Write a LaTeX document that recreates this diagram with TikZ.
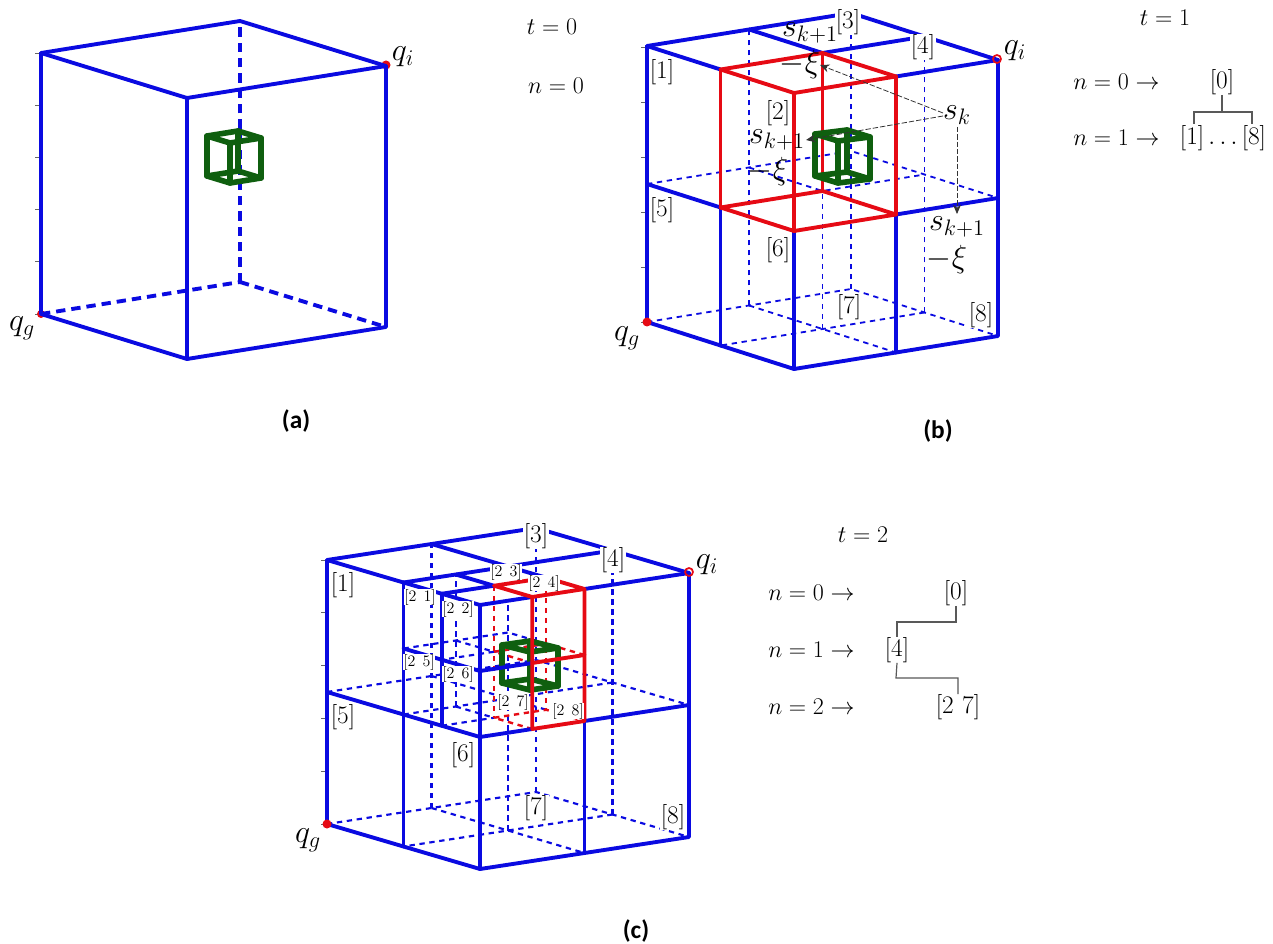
\documentclass[tikz,border=0pt]{standalone}
\usepackage{fix-cm}
\usepackage{fontspec}
\newfontfamily\capfont{Carlito}[BoldFont={Carlito Bold}]
\usetikzlibrary{arrows.meta}
\definecolor{cblue}{RGB}{10,10,225}
\definecolor{cred}{RGB}{230,10,20}
\definecolor{cgreen}{RGB}{15,95,15}
\tikzset{
  pxframe/.code n args={7}{\tikzset{shift={(#1,#2)},
    x={({0.75pt*(#3)},{-0.75pt*(#4)})},
    y={({0.75pt*(#5)},{-0.75pt*(#6)})},
    z={(0pt,{0.75pt*(#7)})}}},
  bluesolid/.style={draw=cblue,line width=2.9pt,line cap=round,line join=round},
  redsolid/.style={draw=cred,line width=2.9pt,line cap=round,line join=round},
  bluefat/.style={draw=cblue,line width=2.9pt,dash pattern=on 7pt off 4.5pt},
  bluethin/.style={draw=cblue,line width=1.35pt,dash pattern=on 4pt off 3.5pt},
  bluemid/.style={draw=cblue,line width=1.6pt,dash pattern=on 4pt off 3.5pt},
  redmid/.style={draw=cred,line width=1.8pt,dash pattern=on 4pt off 3.5pt},
  greenline/.style={draw=cgreen,line width=4.2pt,line join=round,line cap=round},
  lab/.style={font=\fontsize{19}{21}\selectfont,inner sep=0pt},
  tlab/.style={font=\fontsize{18}{20}\selectfont,inner sep=0pt},
  labw/.style={lab,fill=white,inner sep=0.5pt},
  biglab/.style={font=\fontsize{24}{26}\selectfont,inner sep=0pt},
  smalllab/.style={font=\fontsize{12}{14}\selectfont,fill=white,inner sep=0pt},
  capt/.style={font=\capfont\bfseries\fontsize{19}{22}\selectfont,inner sep=0pt},
  treeline/.style={draw=black!65,line width=0.9pt},
  hint/.style={draw=black!80,line width=0.6pt,dash pattern=on 4pt off 1.5pt,-{Stealth[length=7pt,width=6pt]}},
  tick/.style={draw=black!60,line width=0.5pt},
  reddot/.style={fill=cred,draw=none}
}
\newcommand{\greencube}{%
  \draw[greenline] (0,0,0)--(1,0,0)--(1,1,0)--(0,1,0)--cycle;
  \draw[greenline] (0,0,1)--(1,0,1)--(1,1,1)--(0,1,1)--cycle;
  \draw[greenline] (0,0,0)--(0,0,1) (1,0,0)--(1,0,1) (1,1,0)--(1,1,1) (0,1,0)--(0,1,1);
}
\newcommand{\ticksat}[2]{%
  \foreach \tk in {0,0.2,0.4,0.6,0.8,1}{\draw[tick] ({#1-6},{#2-\tk*(#2-\ticktop)}) -- ({#1},{#2-\tk*(#2-\ticktop)});}
}
\newcommand{\backdash}[1]{%
  % z = 1/2 level, hidden lines
  \draw[#1] (0,1,.5)--(1,1,.5)--(1,0,.5);
  \draw[#1] (.5,1,.5)--(.5,.5,.5)--(1,.5,.5);
  % floor
  \draw[#1] (0,1,0)--(1,1,0)--(1,0,0);
  \draw[#1] (.5,1,0)--(.5,0,0);
  \draw[#1] (1,.5,0)--(0,.5,0);
  % uprights
  \draw[#1] (.5,1,0)--(.5,1,1);
  \draw[#1] (1,1,0)--(1,1,1);
  \draw[#1] (1,.5,0)--(1,.5,1);
}
\begin{document}
\begin{tikzpicture}[x=0.75pt,y=-0.75pt]
\useasboundingbox (0,0) rectangle (1273,944);
\fill[white] (0,0) rectangle (1273,944);

% ---------- panel (a)
\def\ticktop{53}\ticksat{41}{314}
\fill[reddot] (41,314) circle[radius=4];
\fill[reddot] (386,65) circle[radius=4.5];
\begin{scope}[pxframe={187}{359}{199}{-32}{-146}{-45}{261}]
  \draw[bluefat] (0,1,0)--(1,1,0);
  \draw[bluefat] (1,1,0)--(1,0,0);
  \draw[bluefat] (1,1,0)--(1,1,1);
\end{scope}
\begin{scope}[pxframe={230}{183}{31}{-5}{-23}{-7}{40}]
  \greencube
\end{scope}
\begin{scope}[pxframe={187}{359}{199}{-32}{-146}{-45}{261}]
  \draw[bluesolid] (0,1,0)--(0,0,0)--(1,0,0)--(1,0,1)--(1,1,1)--(0,1,1)--cycle;
  \draw[bluesolid] (0,1,1)--(0,0,1)--(1,0,1);
  \draw[bluesolid] (0,0,1)--(0,0,0);
\end{scope}
\node[biglab] (aqi) at (403,57) {$q_i$};
\node[biglab] (aqg) at (22,328) {$q_g$};
\node[capt] (capa) at (296,421) {(a)};
\node[tlab] (at) at (552,27) {$t=0$};
\node[tlab] (an) at (556,86) {$n=0$};

% ---------- panel (b)
\def\ticktop{47}\ticksat{647}{322}
\begin{scope}[pxframe={794}{369}{204}{-33}{-147}{-47}{276}]
  \backdash{bluethin}
  \draw[bluethin] (.5,.5,0)--(.5,.5,.5);
  \draw[bluesolid] (0,1,0)--(0,0,0)--(1,0,0)--(1,0,1)--(.5,0,1);
  \draw[bluesolid] (0,1,0)--(0,1,1)--(1,1,1)--(1,0,1);
  \draw[bluesolid] (0,1,1)--(0,.5,1);
  \draw[bluesolid] (.5,1,1)--(.5,.5,1)--(1,.5,1);
  \draw[bluesolid] (0,1,.5)--(0,.5,.5);
  \draw[bluesolid] (1,0,.5)--(.5,0,.5);
  \draw[bluesolid] (0,.5,0)--(0,.5,.5);
  \draw[bluesolid] (0,0,0)--(0,0,.5);
  \draw[bluesolid] (.5,0,0)--(.5,0,.5);
  % red sub-cube
  \draw[redsolid] (0,0,.5)--(.5,0,.5)--(.5,.5,.5)--(0,.5,.5)--cycle;
  \draw[redsolid] (0,0,1)--(.5,0,1)--(.5,.5,1)--(0,.5,1)--cycle;
  \draw[redsolid] (0,0,.5)--(0,0,1) (.5,0,.5)--(.5,0,1) (.5,.5,.5)--(.5,.5,1) (0,.5,.5)--(0,.5,1);
\end{scope}
\begin{scope}[pxframe={838}{183}{32}{-4}{-23}{-7}{42}]
  \greencube
\end{scope}
\fill[reddot] (647,322) circle[radius=4.5];
\draw[cred,line width=1.3pt] (997,59) circle[radius=4];
\node[biglab] (bqi) at (1015,51) {$q_i$};
\node[biglab] (bqg) at (627,338) {$q_g$};
\node[lab] (b1) at (662,72) {$[1]$};
\node[lab] (b5) at (662,210) {$[5]$};
\node[lab] (b2) at (778,113) {$[2]$};
\node[lab] (b6) at (778,250) {$[6]$};
\node[labw] (b3) at (848,22) {$[3]$};
\node[labw] (b4) at (923,47) {$[4]$};
\node[labw] (b7) at (849,307) {$[7]$};
\node[labw] (b8) at (981,315) {$[8]$};
\node[biglab] (bs1) at (810,33) {$s_{k+1}$};
\node[biglab] (bx1) at (800,65) {$-\xi$};
\node[biglab] (bsk) at (957,115) {$s_k$};
\node[biglab] (bs2) at (777,140) {$s_{k+1}$};
\node[biglab] (bx2) at (768,172) {$-\xi$};
\node[biglab] (bs3) at (957,227) {$s_{k+1}$};
\node[biglab] (bx3) at (947,260) {$-\xi$};
\coordinate (bt1) at (820,65);
\coordinate (bt2) at (806,140);
\coordinate (bt3) at (957,214);
\coordinate (bf1) at (943,113);
\coordinate (bf2) at (943,116);
\coordinate (bf3) at (957,127);
\draw[hint] (bf1) -- (bt1);
\draw[hint] (bf2) -- (bt2);
\draw[hint] (bf3) -- (bt3);
\node[capt] (capb) at (938,431) {(b)};
\node[tlab] (bt) at (1165,18) {$t=1$};
\node[tlab,anchor=west] (bn0) at (1073,82) {$n=0\rightarrow$};
\node[tlab,anchor=west] (bn1) at (1073,138) {$n=1\rightarrow$};
\node[lab] (bzero) at (1222,82) {$[0]$};
\node[lab] (bone) at (1223,138) {$[1]\ldots[8]$};
\coordinate (bm) at (1222,112);
\coordinate (bl) at (1194,124);
\coordinate (br) at (1252,124);
\draw[treeline] (bzero.south) -- (bm);
\draw[treeline] (bl) |- (bm) -| (br);

% ---------- panel (c)
\def\ticktop{560}\ticksat{327}{824}
\begin{scope}[pxframe={480}{869}{209}{-32}{-153}{-45}{264}]
  \backdash{bluemid}
  \draw[bluemid] (.5,.5,0)--(.5,.5,.87);
  % hidden lines of the subdivided octant
  \draw[bluemid] (.25,.5,.5)--(.25,.5,1);
  \draw[bluemid] (0,.5,.75)--(.5,.5,.75)--(.5,.25,.75);
  \draw[bluemid] (.25,.5,.75)--(.25,.25,.75)--(0,.25,.75);
  \draw[bluemid] (.25,.25,.75)--(.5,.25,.75);
  \draw[bluemid] (0,.5,.5)--(.5,.5,.5)--(.5,.25,.5);
  \draw[bluemid] (0,.25,.5)--(.25,.25,.5);
  \draw[bluemid] (.25,.5,.5)--(.25,.25,.5);
  % hidden red lines
  \draw[redmid] (.25,.25,1)--(.25,.25,.5);
  \draw[redmid] (.5,.25,1)--(.5,.25,.5);
  \draw[redmid] (.25,.25,.75)--(.5,.25,.75);
  \draw[redmid] (.25,0,.75)--(.25,.25,.75);
  \draw[redmid] (.5,0,.75)--(.5,.25,.75);
  \draw[redmid] (.25,0,.5)--(.25,.25,.5)--(.5,.25,.5)--(.5,0,.5);
\end{scope}
\begin{scope}[pxframe={530}{690}{28}{-4}{-28}{-7}{38}]
  \greencube
\end{scope}
\begin{scope}[pxframe={480}{869}{209}{-32}{-153}{-45}{264}]
  \draw[bluesolid] (0,1,0)--(0,0,0)--(1,0,0)--(1,0,1)--(.5,0,1);
  \draw[bluesolid] (0,1,0)--(0,1,1)--(1,1,1)--(1,0,1);
  \draw[bluesolid] (0,1,1)--(0,.5,1);
  \draw[bluesolid] (.5,1,1)--(.5,.5,1)--(1,.5,1);
  \draw[bluesolid] (0,1,.5)--(0,0,.5)--(.25,0,.5);
  \draw[bluesolid] (1,0,.5)--(.5,0,.5);
  \draw[bluesolid] (0,.5,0)--(0,.5,1);
  \draw[bluesolid] (0,0,0)--(0,0,1);
  \draw[bluesolid] (.5,0,0)--(.5,0,.5);
  \draw[bluesolid] (0,.25,.5)--(0,.25,1);
  % top of the subdivided octant
  \draw[bluesolid] (0,.5,1)--(.5,.5,1)--(.5,.25,1);
  \draw[bluesolid] (0,.5,1)--(0,0,1)--(.25,0,1);
  \draw[bluesolid] (0,.25,1)--(.25,.25,1)--(.25,.5,1);
  \draw[bluesolid] (0,.5,.75)--(0,0,.75)--(.25,0,.75);
  % red cell
  \draw[redsolid] (.25,0,1)--(.5,0,1)--(.5,.25,1)--(.25,.25,1)--cycle;
  \draw[redsolid] (.25,0,1)--(.25,0,.5)--(.5,0,.5)--(.5,0,1);
  \draw[redsolid] (.25,0,.75)--(.5,0,.75);
\end{scope}
\fill[reddot] (327,824) circle[radius=4.5];
\draw[cred,line width=1.3pt] (689,572) circle[radius=4];
\node[biglab] (cqi) at (707,565) {$q_i$};
\node[biglab] (cqg) at (308,840) {$q_g$};
\node[lab] (c1) at (343,585) {$[1]$};
\node[lab] (c5) at (343,717) {$[5]$};
\node[lab] (c6) at (463,755) {$[6]$};
\node[labw] (c3) at (536,536) {$[3]$};
\node[labw] (c4) at (613,560) {$[4]$};
\node[labw] (c7) at (536,808) {$[7]$};
\node[labw] (c8) at (673,817) {$[8]$};
\node[smalllab] (c21) at (420,597) {$[2\;\,1]$};
\node[smalllab] (c22) at (458,609) {$[2\;\,2]$};
\node[smalllab] (c23) at (506,572) {$[2\;\,3]$};
\node[smalllab] (c24) at (544,583) {$[2\;\,4]$};
\node[smalllab] (c25) at (419,662) {$[2\;\,5]$};
\node[smalllab] (c26) at (458,674) {$[2\;\,6]$};
\node[smalllab] (c27) at (513,702) {$[2\;\,7]$};
\node[smalllab] (c28) at (568,711) {$[2\;\,8]$};
\node[capt] (capc) at (636,931) {(c)};
\node[tlab] (ct) at (863,535) {$t=2$};
\node[tlab,anchor=west] (cn0) at (768,593) {$n=0\rightarrow$};
\node[tlab,anchor=west] (cn1) at (768,650) {$n=1\rightarrow$};
\node[tlab,anchor=west] (cn2) at (768,707) {$n=2\rightarrow$};
\node[lab] (czero) at (956,593) {$[0]$};
\node[lab] (cfour) at (897,650) {$[4]$};
\node[lab] (ctwo) at (958,707) {$[2\,\,7]$};
\coordinate (cu) at (956,622);
\coordinate (cd) at (896,678);
\draw[treeline] (czero.south) -- (cu) -| (cfour.north);
\draw[treeline] (cfour.south) -- (cd) -| (ctwo.north);
\end{tikzpicture}
\end{document}
